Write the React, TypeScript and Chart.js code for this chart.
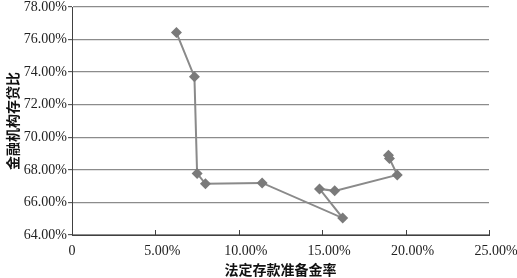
import React, { useEffect, useRef } from "react";
import { Chart, registerables } from "chart.js";

Chart.register(...registerables);

const reserveRatio = [6.26, 7.34, 7.5, 8.0, 11.4, 16.23, 14.84, 15.75, 19.5, 19.03, 18.97];
const loanDepositRatio = [76.43, 73.71, 67.78, 67.14, 67.2, 65.04, 66.83, 66.71, 67.69, 68.7, 68.9];
const xTitle = "法定存款准备金率";
const yTitle = "金融机构存贷比";

const serif = "'Liberation Serif', 'Times New Roman', serif";

const innerTicks = {
  id: "innerTicks",
  afterDatasetsDraw(chart: any) {
    const xs = chart.scales.x;
    const ctx = chart.ctx;
    const bottom = chart.chartArea.bottom;
    ctx.save();
    ctx.strokeStyle = "#404040";
    ctx.lineWidth = 1;
    xs.ticks.forEach((t: any, i: number) => {
      if (i === 0) return;
      const px = Math.round(xs.getPixelForValue(t.value)) + 0.5;
      ctx.beginPath();
      ctx.moveTo(px, bottom);
      ctx.lineTo(px, bottom - 5);
      ctx.stroke();
    });
    ctx.restore();
  },
};

export default function App() {
  const ref = useRef<HTMLCanvasElement | null>(null);
  useEffect(() => {
    if (!ref.current) return;
    const data = reserveRatio.map((x, i) => ({ x, y: loanDepositRatio[i] }));
    const chart = new Chart(ref.current, {
      type: "scatter",
      data: {
        datasets: [
          {
            data,
            showLine: true,
            borderColor: "#8a8a8a",
            borderWidth: 2,
            pointStyle: "rectRot",
            pointRadius: 5.5,
            pointBackgroundColor: "#7a7a7a",
            pointBorderColor: "#7a7a7a",
            pointBorderWidth: 0,
          },
        ],
      },
      options: {
        animation: false,
        responsive: false,
        maintainAspectRatio: false,
        layout: { padding: { top: 7, right: 28, left: 0, bottom: 0 } },
        plugins: { legend: { display: false }, tooltip: { enabled: false } },
        scales: {
          x: {
            type: "linear",
            min: 0,
            max: 25,
            afterFit: (s: any) => {
              s.height = 43;
              s.paddingRight = 0;
              s.paddingLeft = 0;
            },
            ticks: {
              stepSize: 5,
              padding: 8,
              color: "#222",
              font: { family: serif, size: 14 },
              maxRotation: 0,
              callback: (v: any) => (Number(v) === 0 ? "0" : "\u2002\u2002" + Number(v).toFixed(2) + "%"),
            },
            grid: { drawOnChartArea: false, drawTicks: false, tickLength: 0 },
            border: { color: "#404040", width: 1 },
            title: {
              display: true,
              text: xTitle,
              color: "#111",
              font: { family: "'Noto Sans CJK SC'", size: 14, weight: "bold" },
              padding: { top: 0, bottom: 0 },
            },
          },
          y: {
            type: "linear",
            min: 64,
            max: 78,
            afterFit: (s: any) => {
              s.width = 72;
              s.paddingTop = 0;
              s.paddingBottom = 0;
            },
            ticks: {
              stepSize: 2,
              padding: 1,
              color: "#222",
              font: { family: serif, size: 14 },
              callback: (v: any) => Number(v).toFixed(2) + "%",
            },
            grid: {
              color: "#8c8c8c",
              lineWidth: 1.3,
              tickLength: 4,
              tickColor: "#404040",
              tickWidth: 1,
            },
            border: { color: "#404040", width: 1 },
            title: {
              display: true,
              text: yTitle,
              color: "#111",
              font: { family: "'Noto Sans CJK SC'", size: 14, weight: "bold" },
              padding: { top: 4, bottom: 0 },
            },
          },
        },
      },
      plugins: [innerTicks],
    });
    return () => chart.destroy();
  }, []);
  return (
    <div style={{ position: "fixed", left: 0, top: 0, width: 517, height: 278, background: "#fff" }}>
      <canvas ref={ref} width={517} height={278} style={{ width: 517, height: 278, display: "block" }} />
    </div>
  );
}
